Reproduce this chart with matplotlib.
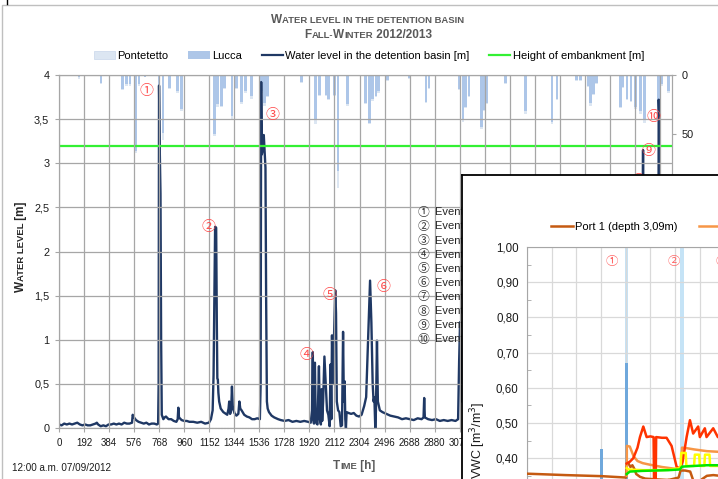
import matplotlib
matplotlib.use("Agg")
import matplotlib.pyplot as plt
from matplotlib.lines import Line2D
from matplotlib.patches import Patch, Rectangle
from matplotlib.ticker import MultipleLocator
import numpy as np

plt.rcParams['font.family'] = ['Liberation Sans', 'DejaVu Sans']
CIRC = ['Noto Sans CJK JP', 'DejaVu Sans']

# ---------------- data ----------------
level_hours = [0, 20, 40, 60, 80, 100, 120, 140, 160, 180, 200, 220, 240, 260, 280, 290, 300, 320, 340,
               360, 380, 400, 420, 440, 460, 480, 500, 520, 540, 560, 565, 575, 590, 610, 630, 650, 670,
               690, 710, 730, 750, 760, 764, 767, 772, 778, 783, 788, 800, 810, 820, 840, 860, 880, 900,
               910, 915, 920, 940, 960, 980, 1000, 1030, 1060, 1090, 1120, 1150, 1165, 1178, 1185, 1192,
               1197, 1205, 1210, 1214, 1218, 1222, 1228, 1240, 1260, 1290, 1300, 1305, 1312, 1320, 1326,
               1332, 1345, 1360, 1375, 1383, 1390, 1400, 1420, 1440, 1460, 1480, 1500, 1520, 1540, 1546,
               1550, 1555, 1562, 1570, 1578, 1583, 1588, 1594, 1600, 1610, 1630, 1650, 1680, 1700, 1730,
               1760, 1790, 1820, 1850, 1880, 1910, 1930, 1940, 1946, 1950, 1955, 1962, 1968, 1975, 1982,
               1993, 2000, 2008, 2013, 2018, 2025, 2035, 2045, 2055, 2065, 2075, 2082, 2088, 2093, 2100,
               2108, 2118, 2124, 2130, 2140, 2150, 2160, 2170, 2178, 2184, 2190, 2195, 2200, 2205, 2220,
               2240, 2260, 2280, 2300, 2320, 2340, 2355, 2370, 2385, 2395, 2405, 2412, 2418, 2425, 2430,
               2438, 2445, 2460, 2480, 2510, 2540, 2570, 2600, 2630, 2660, 2690, 2720, 2750, 2780, 2795,
               2800, 2805, 2830, 2860, 2890, 2920, 2950, 2980, 3010, 3040, 3060, 3068, 3075, 3090, 3200,
               3400, 3600, 3800, 4000, 4200, 4400, 4470, 4478, 4482, 4500, 4560, 4595, 4598, 4604, 4608,
               4615, 4640, 4700]
level_m = [0.04, 0.03, 0.05, 0.04, 0.05, 0.04, 0.05, 0.06, 0.04, 0.03, 0.04, 0.03, 0.03, 0.04, 0.05, 0.06,
           0.04, 0.02, 0.03, 0.02, 0.04, 0.04, 0.05, 0.04, 0.05, 0.04, 0.06, 0.05, 0.05, 0.06, 0.15, 0.12,
           0.09, 0.07, 0.06, 0.05, 0.06, 0.04, 0.05, 0.05, 0.04, 0.05, 0.5, 3.88, 3.2, 2.66, 1.0, 0.15, 0.10,
           0.12, 0.13, 0.10, 0.10, 0.08, 0.07, 0.10, 0.23, 0.12, 0.09, 0.08, 0.08, 0.07, 0.07, 0.06, 0.07,
           0.05, 0.06, 0.10, 0.20, 0.60, 1.60, 2.28, 2.27, 1.20, 0.56, 0.55, 0.40, 0.30, 0.22, 0.18, 0.15,
           0.22, 0.30, 0.16, 0.20, 0.47, 0.25, 0.17, 0.14, 0.16, 0.30, 0.22, 0.20, 0.15, 0.13, 0.12, 0.10,
           0.10, 0.11, 0.10, 0.50, 3.92, 3.10, 3.15, 3.32, 3.10, 2.95, 1.50, 0.30, 0.22, 0.18, 0.14, 0.12,
           0.10, 0.09, 0.08, 0.09, 0.07, 0.08, 0.07, 0.08, 0.07, 0.06, 0.20, 0.86, 0.10, 0.05, 0.74, 0.10,
           0.05, 0.04, 0.70, 0.10, 0.04, 0.44, 0.08, 0.30, 0.81, 0.50, 0.20, 0.15, 0.02, 0.72, 0.10, 1.05,
           0.50, 1.00, 1.56, 1.30, 0.30, 0.20, 0.18, 0.02, 0.03, 1.09, 0.30, 0.53, 0.10, 0.00, 0.18, 0.17,
           0.16, 0.17, 0.14, 0.13, 0.15, 0.25, 0.35, 1.00, 1.67, 1.20, 0.50, 0.30, 0.35, 0.00, 0.20, 0.99,
           0.30, 0.20, 0.18, 0.16, 0.14, 0.13, 0.12, 0.10, 0.11, 0.10, 0.09, 0.11, 0.10, 0.12, 0.34, 0.12,
           0.10, 0.09, 0.10, 0.08, 0.09, 0.08, 0.09, 0.08, 0.10, 0.76, 1.20, 0.30, 0.15, 0.12, 0.10, 0.12,
           0.10, 0.10, 0.12, 0.20, 3.15, 0.50, 0.30, 0.25, 0.40, 3.72, 3.50, 2.00, 0.80, 0.30, 0.20]

embankment_m = 3.2

rain_hours = [153, 321, 487, 518, 543, 589, 614, 658, 767, 796, 849, 910, 941, 1193, 1215, 1245, 1270,
              1326, 1359, 1398, 1428, 1474, 1553, 1577, 1600, 1857, 1966, 1997, 2048, 2068, 2111, 2140,
              2213, 2349, 2379, 2405, 2430, 2448, 2519, 2685, 2813, 2838, 3068, 3098, 3119, 3144, 3238,
              3260, 3282, 3425, 3578, 3779, 3817, 3970, 4000, 4060, 4075, 4100, 4123, 4305, 4325, 4355,
              4385, 4419, 4457, 4490, 4597, 4620, 4674]
lucca_mm = [2, 7, 12, 8, 8, 65, 8, 2, 11, 49, 11, 14, 29, 50, 25, 26, 11, 35, 11, 23, 14, 18, 14, 24, 18,
            6, 37, 17, 17, 20, 17, 82, 25, 24, 41, 20, 18, 14, 4, 2.5, 23, 11, 12, 38, 27, 18, 44, 30, 24,
            7, 31, 40, 20, 4, 4, 9, 24, 16, 7, 27, 10, 20, 22, 27, 31, 38, 31, 8, 14]
pontetetto_mm = [3, 8, 13, 9, 9, 66, 9, 2, 12, 55, 12, 15, 31, 52, 27, 27, 12, 38, 12, 25, 15, 20, 15, 26,
                 19, 7, 42, 18, 18, 21, 18, 96, 26, 25, 42, 22, 19, 15, 5, 3, 24, 12, 13, 40, 28, 19, 46,
                 31, 25, 8, 33, 42, 21, 5, 5, 10, 26, 17, 8, 28, 11, 21, 23, 29, 33, 41, 33, 9, 15]

events_num = ['①', '②', '③', '④', '⑤', '⑥', '⑧', '⑨', '⑩']
events_hour = [673, 1148, 1637, 1897, 2073, 2489, 4445, 4521, 4560]
events_level = [3.82, 2.28, 3.55, 0.83, 1.51, 1.60, 2.80, 3.14, 3.52]
event_legend = ['①', '②', '③', '④', '⑤', '⑥', '⑦', '⑧', '⑨', '⑩']

xticks_h = list(range(0, 4700, 192))
last_visible_tick = 3072
yticks_m = [0, 0.5, 1, 1.5, 2, 2.5, 3, 3.5, 4]
rain_ticks = [0, 50, 100, 150, 200, 250, 300]

# inset (soil moisture)
port1_h = [0, 300, 580, 770, 776, 790, 805, 820, 835, 850, 880, 920, 1000, 1100, 1180, 1195, 1230, 1270,
           1300, 1330, 1360, 1400, 1450, 1500]
port1_v = [0.356, 0.352, 0.349, 0.345, 0.385, 0.385, 0.375, 0.38, 0.37, 0.355, 0.347, 0.342, 0.340, 0.338,
           0.345, 0.365, 0.365, 0.362, 0.330, 0.320, 0.340, 0.350, 0.352, 0.350]
port2_h = [776, 777, 800, 830, 860, 900, 950, 1050, 1150, 1200, 1206, 1250, 1300, 1400, 1500]
port2_v = [0.35, 0.435, 0.433, 0.405, 0.392, 0.386, 0.382, 0.375, 0.37, 0.37, 0.43, 0.428, 0.425, 0.42, 0.418]
port3_h = [776, 800, 827, 860, 879, 905, 931, 960, 985, 995, 1005, 1050, 1086, 1125, 1164, 1190, 1211,
           1242, 1268, 1293, 1332, 1345, 1384, 1397, 1449, 1485, 1500]
port3_v = [0.385, 0.39, 0.40, 0.43, 0.46, 0.49, 0.46, 0.462, 0.46, 0.10, 0.46, 0.458, 0.458, 0.435, 0.376,
           0.37, 0.39, 0.46, 0.508, 0.47, 0.49, 0.46, 0.485, 0.46, 0.485, 0.46, 0.46]
port4_h = [776, 790, 900, 1000, 1100, 1195, 1200, 1235, 1240, 1300, 1306, 1340, 1345, 1380, 1385, 1420,
           1425, 1500]
port4_v = [0.372, 0.368, 0.366, 0.366, 0.367, 0.372, 0.415, 0.415, 0.378, 0.378, 0.41, 0.41, 0.378, 0.378,
           0.41, 0.41, 0.378, 0.378]
port5_h = [776, 800, 900, 1000, 1100, 1190, 1205, 1300, 1400, 1500]
port5_v = [0.355, 0.362, 0.364, 0.365, 0.366, 0.368, 0.376, 0.378, 0.38, 0.38]
port_labels = ['Port 1 (depth 3,09m)', 'Port 2 (depth 2,59m)', 'Port 3 (depth 2,09m)',
               'Port 4 (depth 1,59m)', 'Port 5 (depth 1,09m)']
port_colors = ['#c55a11', '#f79646', '#ff3300', '#ffff00', '#00e600']

inset_bar_h = [581, 776]
inset_bar_v = [0.425, 0.67]
inset_band_h = [776, 1205, 1560]
inset_events = ['①', '②', '③']
inset_event_h = [659, 1143, 1520]
vwc_ticks = [0.0, 0.1, 0.2, 0.3, 0.4, 0.5, 0.6, 0.7, 0.8, 0.9, 1.0]

# ---------------- figure ----------------
W, H = 718, 479
fig = plt.figure(figsize=(W / 100, H / 100), dpi=100)


def fx(x):
    return x / W


def fy(y):
    return 1 - y / H


# outer frame
fig.patches.append(Rectangle((fx(2), fy(700)), 2.0, fy(4.5) - fy(700), transform=fig.transFigure,
                             fill=False, edgecolor='#bfbfbf', lw=1.0))
fig.lines.append(Line2D([fx(7), fx(7)], [fy(0), fy(4)], transform=fig.transFigure, color='black', lw=1))

GRID = '#a6a6a6'
ax = fig.add_axes([fx(59), fy(428), (672 - 59) / W, (428 - 75) / H])
axr = ax.twinx()
axr.set_zorder(1)
ax.set_zorder(2)
ax.patch.set_visible(False)

# rain bars
axr.bar(rain_hours, pontetetto_mm, width=20, color='#dce6f2', edgecolor='none')
axr.bar(rain_hours, lucca_mm, width=20, color='#adc6e8', edgecolor='none')
axr.set_ylim(300, 0)
axr.set_yticks(rain_ticks)
axr.set_yticklabels([str(v) for v in rain_ticks])

ax.plot(level_hours, level_m, color='#1f3864', lw=1.7)
ax.axhline(embankment_m, color='#33f033', lw=1.6)
ax.set_xlim(0, 4700)
ax.set_ylim(0, 4)
ax.set_xticks(xticks_h)
ax.set_xticklabels([str(v) if v <= last_visible_tick else '' for v in xticks_h])
ax.set_yticks(yticks_m)
ax.set_yticklabels([('%g' % v).replace('.', ',') for v in yticks_m])
ax.grid(True, color=GRID, lw=0.9)
ax.set_axisbelow(False)
for a in (ax, axr):
    for s in a.spines.values():
        s.set_color(GRID)
    a.tick_params(colors=GRID, labelcolor='#1a1a1a', length=3, width=0.8)
ax.tick_params(axis='x', labelsize=7, pad=4)
ax.tick_params(axis='y', labelsize=7.8, pad=4)
axr.tick_params(axis='y', labelsize=7.8, pad=4)
ax.spines['bottom'].set_linestyle(':')

for n, h_, v in zip(events_num, events_hour, events_level):
    ax.text(h_, v, n, color='#ff4d4d', fontsize=10, ha='center', va='center', family=CIRC)

# event legend (partially hidden behind inset)
for i, n in enumerate(event_legend):
    y = 212.3 + i * 14.1
    fig.text(fx(424), fy(y), n, fontsize=8.5, ha='center', va='center', family=CIRC, color='#333333')
    fig.text(fx(435), fy(y), 'Event %d' % (i + 1), fontsize=8, ha='left', va='center', color='#262626')

# main legend
handles = [Patch(facecolor='#dce6f2', edgecolor='#c8d6ea', lw=0.5),
           Patch(facecolor='#adc6e8', edgecolor='none'),
           Line2D([], [], color='#1f3864', lw=1.6),
           Line2D([], [], color='#33f033', lw=1.6)]
labels = ['Pontetetto', 'Lucca', 'Water level in the detention basin [m]', 'Height of embankment [m]']
fig.legend(handles, labels, loc='center', bbox_to_anchor=(fx(369), fy(56)), ncol=4, frameon=False,
           fontsize=8, handlelength=1.9, handleheight=0.8, handletextpad=0.2, columnspacing=1.8,
           borderpad=0, borderaxespad=0)


# ---------------- small caps helper ----------------
renderer = fig.canvas.get_renderer()


def seg_text(segs, x, y, rotation=0, color='#595959', weight='bold'):
    widths = []
    for s, sz in segs:
        t1 = fig.text(0, 0, '|' + s + '|', fontsize=sz, weight=weight)
        t2 = fig.text(0, 0, '||', fontsize=sz, weight=weight)
        widths.append(t1.get_window_extent(renderer).width - t2.get_window_extent(renderer).width)
        t1.remove()
        t2.remove()
    pos = -sum(widths) / 2
    for (s, sz), w in zip(segs, widths):
        if rotation == 0:
            px, py = x + pos, y
        else:
            px, py = x, y - pos
        fig.text(fx(px), fy(py), s, fontsize=sz, weight=weight, color=color, rotation=rotation,
                 rotation_mode='anchor', ha='left', va='baseline')
        pos += w


seg_text([('W', 8.5), ('ATER LEVEL IN THE DETENTION BASIN', 6.8)], 368, 23)
seg_text([('F', 8.5), ('ALL-', 6.8), ('W', 8.5), ('INTER', 6.8), (' 2012/2013', 8.5)], 368, 38.5)
seg_text([('W', 8.5), ('ATER LEVEL', 6.8), (' [m]', 8.5)], 24, 247, rotation=90, color='#262626')
seg_text([('T', 8.5), ('IME', 6.8), (' [h]', 8.5)], 354, 469)

fig.text(fx(12), fy(471), '12:00 a.m. 07/09/2012', fontsize=7.1, ha='left', va='baseline', color='#1a1a1a')

# ---------------- inset ----------------
ax_box = fig.add_axes([fx(462), fy(800), (820 - 462) / W, (800 - 175) / H], zorder=10)
ax_box.set_xticks([])
ax_box.set_yticks([])
for s in ax_box.spines.values():
    s.set_color('black')
    s.set_linewidth(1.3)

ax_in = fig.add_axes([fx(527), fy(599), 604 / W, 352 / H], zorder=11)
ax_in.set_xlim(0, 4700)
ax_in.set_ylim(0, 1)
ax_in.set_xticks(xticks_h)
ax_in.set_xticklabels([])
ax_in.set_yticks(vwc_ticks)
ax_in.set_yticklabels([('%.2f' % v).replace('.', ',') for v in vwc_ticks])
ax_in.yaxis.set_minor_locator(MultipleLocator(0.05))
ax_in.grid(True, color='#d9d9d9', lw=0.9)
ax_in.tick_params(axis='y', labelsize=8.3, length=0, pad=6, labelcolor='#1a1a1a')
ax_in.tick_params(axis='y', which='minor', length=3, direction='in', color='#a6a6a6')
for s in ax_in.spines.values():
    s.set_color('#a6a6a6')

for h_ in inset_band_h:
    ax_in.bar(h_, 1.0, width=26, color='#c5e3f6', edgecolor='none', zorder=1)
ax_in.bar(inset_bar_h, inset_bar_v, width=24, color='#6fa8dc', edgecolor='none', zorder=2)

series = [(port1_h, port1_v), (port2_h, port2_v), (port3_h, port3_v), (port4_h, port4_v), (port5_h, port5_v)]
lines = []
for (hh, vv), c, lab in zip(series, port_colors, port_labels):
    ln, = ax_in.plot(hh, vv, color=c, lw=1.8, zorder=3, label=lab)
    lines.append(ln)
lines[4].set_zorder(5)
lines[3].set_zorder(4)

for n, h_ in zip(inset_events, inset_event_h):
    ax_in.text(h_, 0.958, n, color='#ff6666', fontsize=9, ha='center', va='center', family=CIRC)

ax_in.legend(handles=lines, loc='center left', bbox_to_anchor=(fx(551), fy(227)),
             bbox_transform=fig.transFigure, ncol=5, frameon=False, fontsize=8, handlelength=2.0,
             handletextpad=0.2, columnspacing=1.9, borderpad=0, borderaxespad=0)

ax_in.text(fx(478), fy(440), 'VWC [m$^3$/m$^3$]', transform=fig.transFigure, rotation=90,
           fontsize=9, ha='center', va='center', color='#1a1a1a')

fig.savefig('out.png', dpi=100)
